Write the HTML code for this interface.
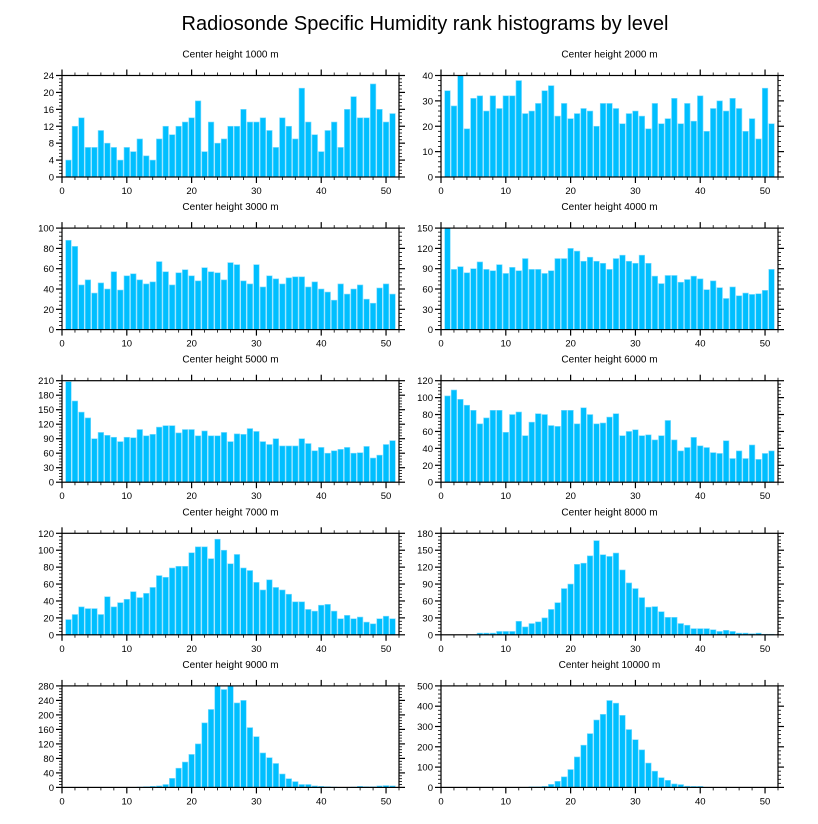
<!DOCTYPE html>
<html><head><meta charset="utf-8"><style>
body{margin:0;background:#fff;}
svg{display:block;font-family:"Liberation Sans",sans-serif;}
</style></head><body>
<svg id="fig" width="818" height="824" viewBox="0 0 818 824">
<text x="425" y="30" font-size="20" text-anchor="middle">Radiosonde Specific Humidity rank histograms by level</text>
</svg>
<script>
const titles = ["Center height 1000 m","Center height 2000 m","Center height 3000 m","Center height 4000 m","Center height 5000 m","Center height 6000 m","Center height 7000 m","Center height 8000 m","Center height 9000 m","Center height 10000 m"];
const yMax = [24,40,100,150,210,120,120,180,280,500];
const yStep = [4,10,20,30,30,20,20,30,40,100];
const xTicks = [0,10,20,30,40,50];
const h1000 = [4,12,14,7,7,11,8,7,4,7,6,9,5,4,9,12,10,12,13,14,18,6,13,8,9,12,12,16,13,13,14,11,7,14,12,9,21,13,10,6,11,13,7,16,19,14,14,22,16,13,15];
const h2000 = [34,28,40,19,31,32,26,32,27,32,32,38,25,26,29,34,36,24,29,23,25,27,26,20,29,29,27,21,25,26,24,19,29,21,23,31,21,29,22,32,18,27,30,26,31,27,18,23,15,35,21];
const h3000 = [88,82,44,49,36,46,40,57,39,53,55,49,45,47,67,57,44,56,59,53,48,61,57,56,49,66,64,48,45,64,42,53,50,45,51,52,52,42,47,40,37,29,45,35,40,44,30,26,41,45,35];
const h4000 = [150,89,93,84,90,100,89,87,96,83,92,87,105,89,89,83,87,105,105,120,116,101,107,101,98,89,105,110,101,98,110,98,79,68,80,80,70,74,79,75,59,72,62,46,63,50,54,52,53,58,89];
const h5000 = [208,168,145,133,90,103,97,93,84,93,92,109,96,99,114,117,117,102,109,109,96,106,96,96,103,84,100,99,111,105,84,78,90,75,75,75,90,80,65,72,60,65,68,72,60,61,74,50,56,78,86];
const h6000 = [102,109,98,91,85,69,76,85,85,59,80,83,55,71,81,80,67,66,85,85,69,88,80,69,70,77,81,55,60,62,55,56,50,55,73,50,37,41,53,43,41,35,34,49,28,37,28,44,27,34,37];
const h7000 = [18,24,33,31,31,24,45,33,38,42,51,44,49,56,70,68,79,81,81,97,104,104,90,113,100,84,95,79,76,62,53,65,56,53,48,39,39,30,28,35,36,28,19,23,19,21,15,13,19,22,19];
const h8000 = [0,0,0,0,0,3,3,3,6,6,6,24,14,20,23,30,45,57,82,90,125,127,140,167,142,139,145,115,92,82,66,49,50,41,31,31,20,17,11,11,11,9,6,8,6,3,3,2,3,1,1];
const h9000 = [0,0,0,0,0,0,0,0,0,0,0,1,2,3,4,8,25,53,70,91,120,178,215,280,270,280,233,240,165,140,95,82,66,37,24,16,8,8,4,3,2,1,0,0,1,3,2,2,4,5,4];
const h10000 = [0,0,0,0,0,0,0,0,0,0,0,0,0,3,3,5,15,30,52,88,150,208,265,332,360,428,415,355,285,235,185,120,80,48,35,17,14,6,5,5,0,0,0,0,0,0,0,0,0,0,0];
const series = [h1000,h2000,h3000,h4000,h5000,h6000,h7000,h8000,h9000,h10000];

const NS="http://www.w3.org/2000/svg";
const svg=document.getElementById('fig');
function mk(tag,attrs,parent){const e=document.createElementNS(NS,tag);for(const k in attrs)e.setAttribute(k,attrs[k]);(parent||svg).appendChild(e);return e;}
const W=337, H=101.5, XMAX=52;
for(let p=0;p<10;p++){
  const col=p%2, row=Math.floor(p/2);
  const x0 = col===0?62:441, y0 = 75.5+row*152.6;
  const g=mk('g',{});
  
  
  const sx=v=>x0+v/XMAX*W;
  const sy=v=>y0+H-v/yMax[p]*H;
  const t=mk('text',{x:x0+W/2,y:y0-18,'font-size':'10','text-anchor':'middle'},g);
  t.textContent=titles[p];
  
  
  const data=series[p];
  for(let i=0;i<data.length;i++){
    const v=Math.min(data[i],yMax[p]);
    if(v<=0) continue;
    const c=i+1;
    const r=mk('rect',{x:sx(c-0.43),y:sy(v),width:sx(0.86)-sx(0),height:sy(0)-sy(v),fill:'#00bfff',stroke:'#7fdcff','stroke-width':'0.6'},g);
    
    
  }
  const fr=mk('rect',{x:x0,y:y0,width:W,height:H,fill:'none',stroke:'#000','stroke-width':'1.2'},g);
  
  
  // x ticks
  for(let v=0;v<=XMAX;v+=2){
    const maj=v%10===0, L=maj?6:3, x=sx(v);
    mk('line',{x1:x,x2:x,y1:y0+H,y2:y0+H+L,stroke:'#000','stroke-width':maj?1.2:0.8},g);
    mk('line',{x1:x,x2:x,y1:y0,y2:y0-L,stroke:'#000','stroke-width':maj?1.2:0.8},g);
  }
  xTicks.forEach(v=>{
    const l=mk('text',{x:sx(v),y:y0+H+17,'font-size':'9.5','text-anchor':'middle'},g);
    l.textContent=v;
    
    
  });
  // y ticks
  const minor=yStep[p]/5;
  for(let k=0;k<=Math.round(yMax[p]/minor);k++){
    const v=k*minor, maj=k%5===0, L=maj?6:3, y=sy(v);
    mk('line',{x1:x0,x2:x0-L,y1:y,y2:y,stroke:'#000','stroke-width':maj?1.2:0.8},g);
    mk('line',{x1:x0+W,x2:x0+W+L,y1:y,y2:y,stroke:'#000','stroke-width':maj?1.2:0.8},g);
  }
  for(let v=0;v<=yMax[p];v+=yStep[p]){
    const l=mk('text',{x:x0-8,y:sy(v)+3.5,'font-size':'9.5','text-anchor':'end'},g);
    l.textContent=v;
    
    
  }
}
</script>
</body></html>
